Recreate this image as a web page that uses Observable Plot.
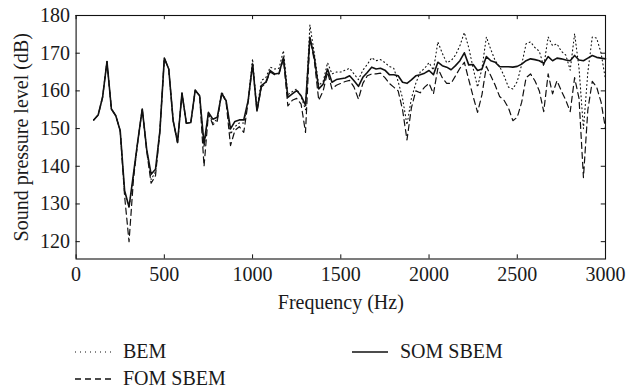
<!DOCTYPE html>
<html>
<head>
<meta charset="utf-8">
<script src="https://cdn.jsdelivr.net/npm/d3@7"></script>
<script src="https://cdn.jsdelivr.net/npm/@observablehq/plot@0.6"></script>
<style>
  html, body { margin: 0; padding: 0; background: #fff; }
  #wrap { position: relative; width: 627px; height: 392px; font-family: "Liberation Serif", "Times New Roman", serif; color: #1a1a1a; }
  #wrap svg text { font-family: "Liberation Serif", "Times New Roman", serif !important; }
  .leg { position: absolute; font-size: 20px; line-height: 20px; white-space: nowrap; }
  .leg svg { position: absolute; left: 0; top: 0; }
  .leg span { position: absolute; }
</style>
</head>
<body>
<div id="wrap"></div>
<script>
const freq = [
  100,125,150,175,200,225,250,275,300,325,350,375,400,425,450,475,
  500,525,550,575,600,625,650,675,700,725,750,775,800,825,850,875,900,925,950,975,
  1000,1025,1050,1075,1100,1125,1150,1175,1200,1225,1250,1275,1300,1325,1350,1375,1400,1425,1450,1475,
  1500,1525,1550,1575,1600,1625,1650,1675,1700,1725,1750,1775,1800,1825,1850,1875,1900,1925,1950,1975,
  2000,2025,2050,2075,2100,2125,2150,2175,2200,2225,2250,2275,2300,2325,2350,2375,2400,2425,2450,2475,
  2500,2525,2550,2575,2600,2625,2650,2675,2700,2725,2750,2775,2800,2825,2850,2875,2900,2925,2950,2975,3000
];
const som = [
  152.3,153.6,158.3,167.8,155.2,153.4,149.4,133.5,129.2,137.9,146.8,155.2,144.5,137.9,139.2,149.4,
  168.7,165.8,152.1,146.3,159.4,151.4,151.6,160.2,158.7,145.9,154.3,152.5,153.0,159.3,157.4,149.9,151.9,152.3,152.3,157.4,
  167.1,154.7,161.4,162.3,165.4,164.5,164.7,168.9,158.3,159.2,160.1,158.7,156.2,174.2,168.9,160.5,161.8,165.8,162.3,163.0,
  163.2,163.4,164.0,162.7,161.2,163.6,164.9,166.3,165.8,166.0,165.5,164.3,164.3,164.0,162.3,162.0,162.9,164.0,164.3,164.7,
  165.4,164.3,167.6,166.7,166.3,165.6,166.7,168.0,170.1,166.9,167.0,165.4,165.8,169.1,168.0,167.6,166.4,166.4,166.4,166.3,
  166.5,167.1,168.0,168.5,168.3,168.0,167.3,169.1,168.0,168.7,168.5,168.2,168.0,169.4,168.2,168.0,168.7,169.4,168.9,168.7,168.5
];
const bem = [
  152.3,153.6,158.3,167.8,155.2,153.4,149.4,133.0,129.0,137.5,146.8,155.2,144.5,136.5,138.5,149.4,
  168.7,165.8,152.1,146.3,159.4,151.4,151.6,160.2,158.7,145.0,154.3,151.5,152.5,159.8,157.4,148.5,150.5,151.5,151.5,157.4,
  168.5,155.0,162.8,163.5,166.3,165.8,166.0,170.7,159.0,159.8,160.5,158.5,155.0,177.5,170.0,161.5,162.5,167.5,164.5,165.0,
  165.0,165.5,166.0,164.5,163.0,165.5,167.0,168.8,168.0,168.3,167.5,166.5,166.0,162.5,158.0,151.0,158.0,162.0,165.0,166.0,
  167.5,165.5,173.0,170.0,167.5,168.0,169.5,172.0,175.5,171.5,166.0,161.0,166.0,174.3,171.0,168.0,166.5,164.0,161.0,160.5,
  162.5,167.0,172.5,173.0,171.5,170.5,166.5,174.3,172.0,172.5,170.5,169.5,165.5,175.2,166.0,150.0,165.0,174.3,174.0,170.0,163.0
];
const fom = [
  152.3,153.6,158.3,167.8,155.2,153.4,149.4,132.0,120.0,136.5,146.8,155.2,144.0,135.5,137.5,149.4,
  168.7,165.8,152.1,146.3,159.4,151.4,151.6,160.2,158.7,140.0,154.0,151.0,152.0,159.5,157.0,145.5,149.5,150.5,149.0,157.0,
  167.1,154.5,161.0,162.0,165.0,164.3,164.5,168.5,156.0,157.5,158.0,156.5,149.0,174.0,168.0,157.5,160.0,165.0,160.5,161.5,
  162.0,162.5,162.8,161.0,157.8,162.0,164.0,164.5,164.5,164.7,163.5,162.0,161.0,160.0,155.0,147.0,155.5,160.0,159.5,161.0,
  162.0,159.2,166.0,163.5,162.0,162.0,164.0,166.0,167.6,163.0,158.5,154.3,159.0,166.5,164.0,161.5,158.5,157.5,155.5,152.1,
  153.0,157.0,163.5,164.5,162.7,160.0,154.5,164.5,159.2,162.7,160.0,157.5,154.5,163.5,158.0,137.0,155.0,162.5,161.0,157.0,150.0
];
const xTicks = [0, 500, 1000, 1500, 2000, 2500, 3000];
const yTicks = [120, 130, 140, 150, 160, 170, 180];
const seriesNames = ["BEM", "FOM SBEM", "SOM SBEM"];

const rows = (vals) => freq.map((f, i) => ({f, v: vals[i]}));
const yMin = 115.4, yMax = 180;

const chart = Plot.plot({
  width: 627,
  height: 320,
  marginLeft: 75.6,
  marginRight: 22,
  marginTop: 15,
  marginBottom: 61.5,
  style: {fontFamily: "'Liberation Serif', 'Times New Roman', serif", fontSize: "20px", color: "#1a1a1a", background: "#fff"},
  x: {domain: [0, 3000]},
  y: {domain: [yMin, yMax]},
  marks: [
    Plot.line(rows(bem), {x: "f", y: "v", stroke: "#111", strokeWidth: 1.1, strokeDasharray: "1,3"}),
    Plot.line(rows(fom), {x: "f", y: "v", stroke: "#111", strokeWidth: 1.2, strokeDasharray: "6,4"}),
    Plot.line(rows(som), {x: "f", y: "v", stroke: "#111", strokeWidth: 1.6}),
    Plot.ruleX(xTicks, {y1: yMin, y2: yMin + 1.1, stroke: "#111", strokeWidth: 1}),
    Plot.ruleX(xTicks, {y1: yMax, y2: yMax - 1.1, stroke: "#111", strokeWidth: 1}),
    Plot.ruleY(yTicks, {x1: 0, x2: 24, stroke: "#111", strokeWidth: 1}),
    Plot.ruleY(yTicks, {x1: 3000, x2: 2976, stroke: "#111", strokeWidth: 1}),
    Plot.frame({stroke: "#111", strokeWidth: 1.1}),
    Plot.axisX({ticks: xTicks, tickSize: 0, tickPadding: 8, tickFormat: d => String(d),
      label: "Frequency (Hz)", labelAnchor: "center", labelArrow: "none", labelOffset: 50}),
    Plot.axisY({ticks: yTicks, tickSize: 0, tickPadding: 6, tickFormat: d => String(d),
      label: "Sound pressure level (dB)", labelAnchor: "center", labelArrow: "none", labelOffset: 62})
  ]
});

const wrap = document.getElementById("wrap");
wrap.appendChild(chart);

function legendItem(name, left, top, dash, sw) {
  const d = document.createElement("div");
  d.className = "leg";
  d.style.left = left + "px";
  d.style.top = top + "px";
  d.innerHTML = `<svg width="40" height="20"><line x1="0" y1="11" x2="36" y2="11" stroke="#111" stroke-width="${sw}" ${dash ? `stroke-dasharray="${dash}"` : ""}/></svg><span style="left:48px;top:0">${name}</span>`;
  wrap.appendChild(d);
}
legendItem(seriesNames[0], 75, 341, "1,4", 1.1);
legendItem(seriesNames[2], 352, 341, null, 1.3);
legendItem(seriesNames[1], 75, 368, "6,4", 1.3);
</script>
</body>
</html>
